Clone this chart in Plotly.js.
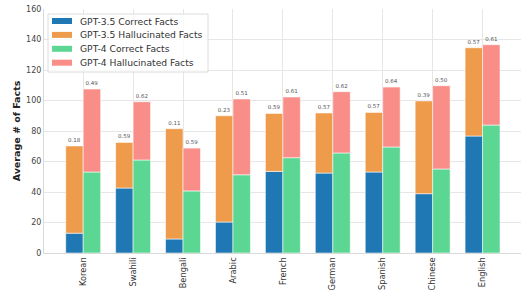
<!DOCTYPE html>
<html>
<head>
<meta charset="utf-8">
<script src="https://cdn.plot.ly/plotly-3.0.1.min.js"></script>
<style>html,body{margin:0;padding:0;background:#fff;}#chart{width:521px;height:291px;}</style>
</head>
<body>
<div id="chart"></div>
<script>
const languages = ["Korean","Swahili","Bengali","Arabic","French","German","Spanish","Chinese","English"];
const gpt35Correct = [13, 42.6, 9.2, 20.3, 53.5, 52.4, 53.1, 38.9, 76.7];
const gpt35Total = [70.2, 72.5, 81.5, 90, 91.5, 91.8, 92.2, 99.7, 134.6];
const gpt4Correct = [53.1, 61, 40.7, 51.3, 62.5, 65.6, 69.5, 55.1, 83.9];
const gpt4Total = [107.5, 99.2, 68.8, 101, 102.3, 105.8, 108.8, 109.7, 136.6];
const gpt35Ratio = ["0.18","0.59","0.11","0.23","0.59","0.57","0.57","0.39","0.57"];
const gpt4Ratio = ["0.49","0.62","0.59","0.51","0.61","0.62","0.64","0.50","0.61"];
const seriesNames = ["GPT-3.5 Correct Facts","GPT-3.5 Hallucinated Facts","GPT-4 Correct Facts","GPT-4 Hallucinated Facts"];
const seriesColors = ["#1f77b4","#ee9b4b","#5cd793","#f98e89"];

const gpt35Hall = gpt35Total.map((t,i)=>t-gpt35Correct[i]);
const gpt4Hall = gpt4Total.map((t,i)=>t-gpt4Correct[i]);

const W = 0.35;
const edge = {color:'rgba(255,255,255,0.55)', width:1};
const txtFont = {size:5.5, color:'#555', family:'DejaVu Sans'};

const traces = [
  {type:'bar', name:seriesNames[0], x:languages, y:gpt35Correct, width:W, offset:-W,
   marker:{color:seriesColors[0], line:edge}},
  {type:'bar', name:seriesNames[1], x:languages, y:gpt35Hall, base:gpt35Correct, width:W, offset:-W,
   marker:{color:seriesColors[1], line:edge}, text:gpt35Ratio, textposition:'outside', textfont:txtFont, cliponaxis:false, constraintext:'none'},
  {type:'bar', name:seriesNames[2], x:languages, y:gpt4Correct, width:W, offset:0,
   marker:{color:seriesColors[2], line:edge}},
  {type:'bar', name:seriesNames[3], x:languages, y:gpt4Hall, base:gpt4Correct, width:W, offset:0,
   marker:{color:seriesColors[3], line:edge}, text:gpt4Ratio, textposition:'outside', textfont:txtFont, cliponaxis:false, constraintext:'none'}
];

// plot area in pixels
const M = {l:44, r:0, t:9, b:38};
const PW = 521 - M.l - M.r, PH = 291 - M.t - M.b;
const px = v => (v - M.l) / PW;
const py = v => (291 - M.b - v) / PH;

// compact legend (matplotlib style), drawn with shapes + annotations
const shapes = [{
  type:'rect', xref:'paper', yref:'paper', layer:'above',
  x0:px(48), x1:px(208), y0:py(72), y1:py(14),
  fillcolor:'rgba(255,255,255,0.8)', line:{color:'#dcdcdc', width:1}
}];
const annotations = [];
const rowY0 = 21, rowStep = 13.9;
seriesNames.forEach((nm, i) => {
  const cy = rowY0 + i*rowStep;
  shapes.push({type:'rect', xref:'paper', yref:'paper', layer:'above',
    x0:px(52), x1:px(72), y0:py(cy+3), y1:py(cy-3),
    fillcolor:seriesColors[i], line:{width:0}});
  annotations.push({xref:'paper', yref:'paper', x:px(78), y:py(cy), xanchor:'left', yanchor:'middle',
    text:nm, showarrow:false, font:{size:9.2, color:'#333', family:'DejaVu Sans'}});
});

const layout = {
  width:521, height:291,
  margin:{l:M.l, r:M.r, t:M.t, b:M.b, pad:0},
  paper_bgcolor:'#fff', plot_bgcolor:'#fff',
  barmode:'overlay',
  showlegend:false,
  font:{family:'DejaVu Sans', color:'#333'},
  xaxis:{
    type:'category', range:[-0.785, 8.77], tickangle:-90,
    tickfont:{size:8.3, color:'#333'}, showgrid:true, gridcolor:'#e6e6e6', gridwidth:1,
    showline:true, linecolor:'#d9d9d9', linewidth:1, ticks:'', automargin:false
  },
  yaxis:{
    range:[0,160], dtick:20, tickfont:{size:8, color:'#444'},
    showgrid:true, gridcolor:'#e6e6e6', gridwidth:1, zeroline:false,
    showline:true, linecolor:'#d9d9d9', linewidth:1, ticks:'', automargin:false,
    title:{text:'<b>Average # of Facts</b>', font:{size:9.5, color:'#222'}, standoff:3}
  },
  shapes: shapes,
  annotations: annotations
};

Plotly.newPlot('chart', traces, layout, {displayModeBar:false, staticPlot:true});
</script>
</body>
</html>
